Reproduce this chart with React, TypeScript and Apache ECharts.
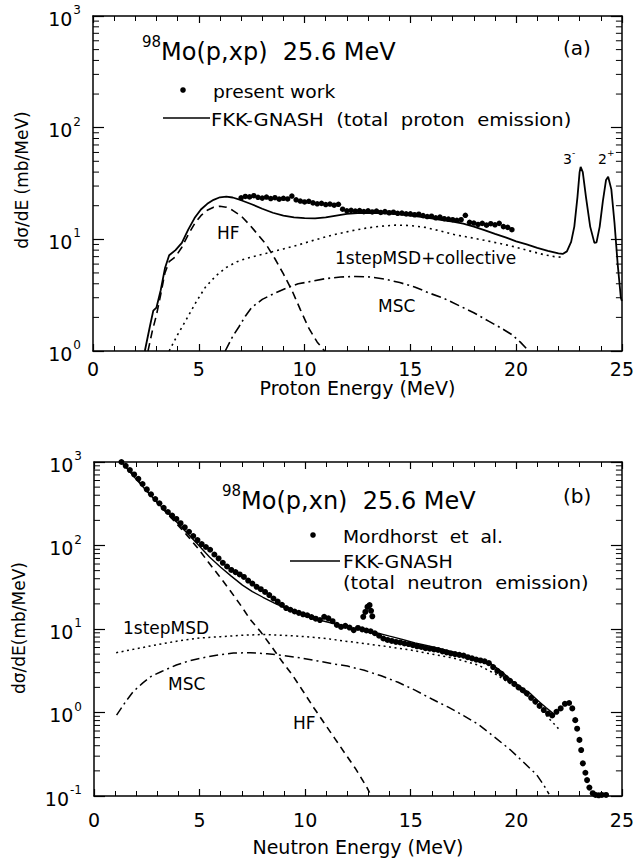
import React, { useEffect, useRef } from "react";
import * as echarts from "echarts";

const FONT = "DejaVu Sans";

// ---------- (a) 98Mo(p,xp) 25.6 MeV ----------
const presentWork: [number, number][] = [
  [7.0, 23.5], [7.2, 24.2], [7.4, 24.0], [7.6, 24.6], [7.8, 23.8], [8.0, 23.4], [8.2, 23.9], [8.4, 23.2],
  [8.6, 23.6], [8.8, 22.9], [9.0, 23.3], [9.2, 23.0], [9.4, 24.4], [9.6, 22.6], [9.8, 22.0], [10.0, 21.6],
  [10.2, 21.9], [10.4, 21.2], [10.6, 20.8], [10.8, 21.0], [11.0, 20.5], [11.2, 20.7], [11.4, 20.2], [11.6, 20.6],
  [11.8, 18.6], [12.0, 18.0], [12.2, 18.2], [12.4, 17.9], [12.6, 18.1], [12.8, 17.7], [13.0, 18.0], [13.2, 17.6],
  [13.4, 17.9], [13.6, 17.4], [13.8, 17.7], [14.0, 17.3], [14.2, 17.5], [14.4, 17.1], [14.6, 17.2], [14.8, 16.9],
  [15.0, 16.9], [15.2, 16.6], [15.4, 16.8], [15.6, 16.3], [15.8, 16.0], [16.0, 16.1], [16.2, 15.6], [16.4, 15.8],
  [16.6, 15.3], [16.8, 15.2], [17.0, 15.0], [17.2, 14.8], [17.4, 15.0], [17.6, 16.4], [17.8, 14.2], [18.0, 14.0],
  [18.2, 13.6], [18.4, 13.9], [18.6, 13.4], [18.8, 13.8], [19.0, 13.5], [19.2, 13.9], [19.4, 13.0], [19.6, 12.8],
  [19.8, 12.2],
];

const protonTotal: [number, number][] = [
  [2.45, 1.0], [2.7, 1.7], [2.85, 2.3], [3.0, 2.45], [3.2, 3.5], [3.4, 5.5], [3.6, 7.2], [3.9, 8.0],
  [4.2, 9.3], [4.5, 12.2], [4.8, 15.5], [5.1, 18.5], [5.4, 20.8], [5.7, 22.6], [6.0, 23.8], [6.3, 24.1],
  [6.6, 23.7], [7.0, 22.4], [7.5, 20.6], [8.0, 18.8], [8.5, 17.3], [9.0, 16.3], [9.5, 15.7], [10.0, 15.5],
  [10.5, 15.4], [11.0, 15.7], [11.5, 16.3], [12.0, 16.9], [12.5, 17.2], [13.0, 17.3], [13.5, 17.2], [14.0, 17.0],
  [14.5, 16.7], [15.0, 16.3], [15.5, 15.9], [16.0, 15.4], [16.5, 14.9], [17.0, 14.4], [17.5, 13.8], [18.0, 13.0],
  [18.5, 12.1], [19.0, 11.2], [19.5, 10.4], [20.0, 9.6], [20.5, 9.0], [21.0, 8.4], [21.5, 7.9], [22.0, 7.5],
  [22.2, 7.4], [22.4, 7.8], [22.6, 9.5], [22.75, 13], [22.9, 24], [23.0, 40], [23.05, 44.6], [23.15, 40],
  [23.3, 24], [23.5, 13], [23.7, 9.3], [23.8, 9.4], [23.95, 13], [24.1, 22], [24.25, 34], [24.35, 36.4],
  [24.5, 28], [24.65, 14], [24.8, 6], [24.95, 3.0], [25.0, 2.8],
];

const protonHF: [number, number][] = [
  [2.6, 1.0], [2.8, 1.5], [3.0, 2.1], [3.2, 3.2], [3.4, 5.0], [3.6, 6.3], [3.9, 7.0], [4.2, 8.5],
  [4.5, 11.0], [4.8, 13.8], [5.1, 16.3], [5.4, 18.2], [5.7, 19.4], [6.0, 19.8], [6.3, 19.4], [6.6, 18.2],
  [7.0, 16.2], [7.4, 13.5], [7.8, 11.0], [8.2, 8.9], [8.6, 6.7], [9.0, 4.9], [9.4, 3.5], [9.8, 2.35],
  [10.2, 1.6], [10.6, 1.2], [10.95, 1.0],
];

const protonMSD: [number, number][] = [
  [3.6, 1.0], [4.0, 1.4], [4.4, 1.9], [4.9, 2.8], [5.3, 3.7], [5.8, 4.7], [6.3, 5.6], [6.8, 6.3],
  [7.3, 6.8], [8.2, 7.5], [9.0, 8.2], [9.7, 8.9], [10.5, 9.9], [11.3, 10.9], [12.1, 11.8], [12.9, 12.6],
  [13.6, 13.1], [14.3, 13.4], [15.0, 13.3], [15.7, 12.8], [16.4, 11.9], [17.1, 11.0], [17.8, 10.4],
  [18.5, 9.8], [19.2, 9.2], [19.9, 8.6], [20.6, 7.9], [21.3, 7.3], [21.8, 7.0], [22.2, 6.9],
];

const protonMSC: [number, number][] = [
  [6.25, 1.0], [6.6, 1.35], [6.9, 1.65], [7.2, 2.05], [7.5, 2.45], [8.0, 2.9], [8.6, 3.3], [9.2, 3.7],
  [9.7, 4.0], [10.3, 4.2], [11.0, 4.45], [11.7, 4.6], [12.4, 4.65], [13.1, 4.6], [13.8, 4.4], [14.5, 4.1],
  [15.2, 3.75], [15.9, 3.3], [16.6, 2.95], [17.3, 2.55], [18.0, 2.2], [18.7, 1.85], [19.3, 1.6],
  [19.8, 1.4], [20.2, 1.2], [20.6, 1.0],
];

// ---------- (b) 98Mo(p,xn) 25.6 MeV ----------
const mordhorst: [number, number][] = [
  [1.3, 1000], [1.5, 900], [1.7, 800], [1.9, 710], [2.1, 630], [2.3, 545], [2.5, 470], [2.7, 410],
  [2.9, 360], [3.1, 320], [3.3, 282], [3.5, 252], [3.7, 228], [3.9, 208], [4.1, 185], [4.3, 165],
  [4.5, 146], [4.7, 130], [4.9, 116], [5.1, 104], [5.3, 96], [5.5, 89], [5.7, 78], [5.9, 70],
  [6.1, 62], [6.3, 56], [6.5, 51], [6.7, 48], [6.9, 45], [7.1, 42], [7.3, 38], [7.5, 35],
  [7.7, 32], [7.9, 30], [8.1, 27.8], [8.3, 25.5], [8.5, 23.2], [8.7, 21.3], [8.9, 19.5], [9.1, 17.8],
  [9.3, 17.0], [9.5, 16.2], [9.7, 15.6], [9.9, 15.0], [10.1, 14.6], [10.3, 13.9], [10.5, 13.3], [10.7, 12.8],
  [10.9, 14.0], [11.1, 13.4], [11.3, 12.4], [11.5, 11.2], [11.7, 10.6], [11.9, 10.9], [12.1, 10.4], [12.3, 9.7],
  [12.5, 10.3], [12.7, 9.9], [12.75, 14.0], [12.85, 16.0], [12.9, 9.6], [12.95, 18.4], [13.05, 19.3], [13.1, 9.4],
  [13.12, 16.5], [13.18, 14.2], [13.3, 8.9], [13.5, 8.3], [13.7, 7.7], [13.9, 7.4], [14.1, 7.2], [14.3, 7.0],
  [14.5, 6.9], [14.7, 6.7], [14.9, 6.6], [15.1, 6.4], [15.3, 6.2], [15.5, 6.1], [15.7, 5.9], [15.9, 5.8],
  [16.1, 5.7], [16.3, 5.6], [16.5, 5.4], [16.7, 5.25], [16.9, 5.1], [17.1, 5.0], [17.3, 4.9], [17.5, 4.8],
  [17.7, 4.6], [17.9, 4.45], [18.1, 4.3], [18.3, 4.2], [18.5, 4.1], [18.7, 3.9], [18.9, 3.5], [19.1, 3.15],
  [19.3, 2.9], [19.5, 2.6], [19.7, 2.4], [19.9, 2.2], [20.1, 2.0], [20.3, 1.85], [20.5, 1.69], [20.7, 1.5],
  [20.9, 1.35], [21.1, 1.2], [21.3, 1.07], [21.5, 0.97], [21.7, 0.92], [21.9, 1.02], [22.1, 1.12], [22.3, 1.27],
  [22.5, 1.3], [22.65, 1.12], [22.79, 0.81], [22.88, 0.64], [22.99, 0.47], [23.07, 0.355], [23.15, 0.246],
  [23.27, 0.19], [23.35, 0.155], [23.46, 0.126], [23.62, 0.108], [23.75, 0.103], [23.9, 0.102], [24.05, 0.103],
  [24.25, 0.103],
];

const neutronTotal: [number, number][] = [
  [1.3, 1000], [2.0, 620], [2.6, 420], [3.2, 290], [3.8, 205], [4.36, 145], [4.9, 104], [5.47, 73],
  [6.0, 55], [6.5, 43], [7.03, 33.5], [7.5, 28], [8.0, 24], [8.59, 20.2], [9.2, 17.2], [9.8, 15.0],
  [10.4, 13.3], [11.0, 12.2], [11.6, 11.2], [12.2, 10.3], [12.8, 9.7], [13.4, 9.0], [14.0, 8.2], [14.6, 7.5],
  [15.2, 6.8], [15.8, 6.3], [16.4, 5.8], [17.0, 5.3], [17.6, 4.8], [18.2, 4.3], [18.77, 3.87], [19.3, 3.1],
  [19.8, 2.4], [20.3, 1.95], [20.65, 1.7], [21.0, 1.4], [21.4, 1.15], [21.8, 0.95],
];

const neutronHF: [number, number][] = [
  [1.3, 1000], [2.0, 640], [2.6, 425], [3.2, 285], [3.8, 196], [4.4, 133], [4.9, 94], [5.4, 64],
  [5.9, 44], [6.4, 30], [6.9, 20], [7.4, 13], [7.9, 9.2], [8.4, 6.2], [8.9, 4.1], [9.4, 2.8],
  [9.9, 1.8], [10.4, 1.15], [10.9, 0.75], [11.4, 0.49], [11.9, 0.32], [12.4, 0.21], [12.9, 0.13], [13.05, 0.11],
];

const neutronMSD: [number, number][] = [
  [1.05, 5.2], [2.0, 5.8], [3.0, 6.5], [4.0, 7.2], [5.0, 7.8], [6.0, 8.1], [7.0, 8.4], [8.0, 8.6],
  [9.0, 8.4], [10.0, 8.1], [11.0, 7.7], [12.0, 7.1], [13.0, 6.6], [14.0, 6.1], [15.0, 5.6], [16.0, 5.0],
  [17.0, 4.5], [18.2, 3.7], [19.0, 2.9], [19.5, 2.4], [20.0, 2.0], [20.65, 1.5], [21.2, 1.08], [21.6, 0.82],
  [22.05, 0.62],
];

const neutronMSC: [number, number][] = [
  [1.07, 0.93], [1.5, 1.35], [1.85, 1.77], [2.3, 2.25], [2.7, 2.7], [3.2, 3.1], [3.9, 3.7], [4.5, 4.15],
  [5.0, 4.45], [5.8, 4.85], [6.6, 5.15], [7.4, 5.2], [8.2, 5.05], [9.0, 4.8], [9.8, 4.5], [10.6, 4.15],
  [11.4, 3.8], [12.0, 3.6], [12.8, 3.2], [13.6, 2.75], [14.4, 2.3], [15.2, 1.85], [16.0, 1.45], [16.8, 1.15],
  [17.5, 0.92], [18.2, 0.72], [19.0, 0.5], [19.7, 0.36], [20.3, 0.26], [20.96, 0.18], [21.3, 0.135], [21.55, 0.105],
];

// minor log ticks (2..9 of each decade)
const decadesA = [1, 10, 100];
const decadesB = [0.1, 1, 10, 100];
const mantissas = [2, 3, 4, 5, 6, 7, 8, 9];

const ENERGY_MIN = 0;
const ENERGY_MAX = 25;

const black = "#000";

function lineSeries(data: [number, number][], idx: number, type: any, width = 1.5) {
  return {
    type: "line",
    xAxisIndex: idx,
    yAxisIndex: idx,
    data,
    showSymbol: false,
    symbol: "none",
    lineStyle: { color: black, width, type },
    z: 3,
  };
}

function scatterSeries(data: [number, number][], idx: number, size: number) {
  return {
    type: "scatter",
    xAxisIndex: idx,
    yAxisIndex: idx,
    data,
    symbol: "circle",
    symbolSize: size,
    itemStyle: { color: black, opacity: 1 },
    z: 4,
  };
}

function minorTickSeries(decades: number[], idx: number) {
  const vals: [number, number][] = [];
  decades.forEach((d) => mantissas.forEach((m) => vals.push([ENERGY_MIN, +(m * d).toPrecision(3)])));
  return {
    type: "custom",
    xAxisIndex: idx,
    yAxisIndex: idx,
    data: vals,
    clip: false,
    silent: true,
    z: 5,
    renderItem: (_params: any, api: any) => {
      const v = api.value(1);
      const pl = api.coord([ENERGY_MIN, v]);
      const pr = api.coord([ENERGY_MAX, v]);
      return {
        type: "group",
        children: [
          { type: "line", shape: { x1: pl[0], y1: pl[1], x2: pl[0] + 6, y2: pl[1] }, style: { stroke: black, lineWidth: 1 } },
          { type: "line", shape: { x1: pr[0], y1: pr[1], x2: pr[0] - 6, y2: pr[1] }, style: { stroke: black, lineWidth: 1 } },
        ],
      };
    },
  };
}

function xAxes(gridIndex: number, name: string, labelMargin: number, nameGap: number) {
  const common = {
    type: "value",
    gridIndex,
    min: ENERGY_MIN,
    max: ENERGY_MAX,
    interval: 5,
    splitLine: { show: false },
    axisLine: { show: true, onZero: false, lineStyle: { color: black, width: 1.5 } },
    axisTick: { show: true, inside: true, length: 7, lineStyle: { color: black, width: 1.2 } },
    minorTick: { show: true, splitNumber: 5, length: 5, lineStyle: { color: black, width: 1 } },
    minorSplitLine: { show: false },
  };
  return [
    {
      ...common,
      position: "bottom",
      name,
      nameLocation: "middle",
      nameGap,
      nameTextStyle: { fontFamily: FONT, fontSize: 19, color: black, verticalAlign: "top" },
      axisLabel: { show: true, margin: labelMargin, fontFamily: FONT, fontSize: 19, color: black },
    },
    { ...common, position: "top", axisLabel: { show: false } },
  ];
}

function yAxes(gridIndex: number, min: number) {
  const common = {
    type: "log",
    logBase: 10,
    gridIndex,
    min,
    max: 1000,
    splitLine: { show: false },
    axisLine: { show: true, onZero: false, lineStyle: { color: black, width: 1.5 } },
    axisTick: { show: true, inside: true, length: 11, lineStyle: { color: black, width: 1.2 } },
  };
  return [
    {
      ...common,
      position: "left",
      axisLabel: {
        show: true,
        margin: 12,
        formatter: (v: number) => `{b|10}{s|${Math.round(Math.log10(v))}}`,
        rich: {
          b: { fontFamily: FONT, fontSize: 19, color: black, lineHeight: 24, verticalAlign: "bottom" },
          s: { fontFamily: FONT, fontSize: 12, color: black, lineHeight: 24, verticalAlign: "top", padding: [0, 0, 0, 1] },
        },
      },
    },
    { ...common, position: "right", axisLabel: { show: false } },
  ];
}

function txt(x: number, y: number, text: string, fontSize = 17, extra: any = {}) {
  const { style, ...rest } = extra;
  return {
    type: "text",
    x,
    y,
    silent: true,
    z: 10,
    ...rest,
    style: {
      text,
      fontFamily: FONT,
      fontSize,
      fill: black,
      align: "left",
      verticalAlign: "middle",
      ...(style || {}),
    },
  };
}

function richTitle(x: number, y: number, sup: string, main: string) {
  return {
    type: "text",
    x,
    y,
    silent: true,
    z: 10,
    style: {
      text: `{s|${sup}}{m|${main}}`,
      align: "left",
      verticalAlign: "middle",
      rich: {
        s: { fontFamily: FONT, fontSize: 15, fill: black, lineHeight: 30, verticalAlign: "top" },
        m: { fontFamily: FONT, fontSize: 24, fill: black, lineHeight: 30, verticalAlign: "bottom" },
      },
    },
  };
}

function stateLabel(x: number, y: number, n: string, s: string) {
  return {
    type: "text",
    x,
    y,
    silent: true,
    z: 10,
    style: {
      text: `{n|${n}}{s|${s}}`,
      align: "left",
      verticalAlign: "middle",
      rich: {
        n: { fontFamily: FONT, fontSize: 14, fill: black, lineHeight: 18, verticalAlign: "bottom" },
        s: { fontFamily: FONT, fontSize: 9, fill: black, lineHeight: 18, verticalAlign: "top" },
      },
    },
  };
}

export default function App() {
  const ref = useRef<HTMLDivElement>(null);

  useEffect(() => {
    if (!ref.current) return;
    const chart = echarts.init(ref.current, null, { renderer: "svg" });

    const option: any = {
      animation: false,
      backgroundColor: "#fff",
      grid: [
        { left: 93, top: 16, width: 532, height: 335 },
        { left: 94, top: 462, width: 532, height: 334 },
      ],
      xAxis: [
        ...xAxes(0, "Proton Energy (MeV)", 8, 21),
        ...xAxes(1, "Neutron Energy (MeV)", 14, 41),
      ],
      yAxis: [...yAxes(0, 1), ...yAxes(1, 0.1)],
      series: [
        // panel (a): axis index 0
        scatterSeries(presentWork, 0, 5.5),
        lineSeries(protonTotal, 0, "solid", 1.8),
        lineSeries(protonHF, 0, [8, 5], 1.6),
        lineSeries(protonMSD, 0, [2, 4], 1.6),
        lineSeries(protonMSC, 0, [10, 4, 2, 4], 1.6),
        minorTickSeries(decadesA, 0),
        // panel (b): axis index 2
        scatterSeries(mordhorst, 2, 6),
        lineSeries(neutronTotal, 2, "solid", 1.4),
        lineSeries(neutronHF, 2, [7, 5], 1.6),
        lineSeries(neutronMSD, 2, [2, 3.5], 1.5),
        lineSeries(neutronMSC, 2, [9, 4, 2, 4], 1.5),
        minorTickSeries(decadesB, 2),
      ],
      graphic: [
        // panel (a) annotations
        richTitle(142, 49, "98", "Mo(p,xp)  25.6 MeV"),
        txt(563, 48, "(a)", 20),
        { type: "circle", shape: { cx: 183, cy: 90, r: 2.8 }, style: { fill: black }, silent: true },
        txt(213, 92, "present work", 17, { scaleX: 1.1 }),
        { type: "line", shape: { x1: 163, y1: 118, x2: 210, y2: 118 }, style: { stroke: black, lineWidth: 1.5 }, silent: true },
        txt(211, 120, "FKK-GNASH  (total  proton  emission)", 17, { scaleX: 1.15 }),
        txt(217, 233, "HF", 17),
        txt(335, 258, "1stepMSD+collective", 17),
        txt(378, 306, "MSC", 17),
        stateLabel(563, 157, "3", "-"),
        stateLabel(598, 157, "2", "+"),
        txt(22, 180, "dσ/dE (mb/MeV)", 17, { rotation: Math.PI / 2, style: { align: "center" } }),
        // panel (b) annotations
        richTitle(222, 498, "98", "Mo(p,xn)  25.6 MeV"),
        txt(563, 496, "(b)", 20),
        { type: "circle", shape: { cx: 313, cy: 535, r: 2.8 }, style: { fill: black }, silent: true },
        txt(343, 537, "Mordhorst  et  al.", 17, { scaleX: 1.1 }),
        { type: "line", shape: { x1: 290, y1: 561, x2: 340, y2: 561 }, style: { stroke: black, lineWidth: 1.5 }, silent: true },
        txt(343, 562, "FKK-GNASH", 17, { scaleX: 1.12 }),
        txt(343, 583, "(total  neutron  emission)", 17, { scaleX: 1.14 }),
        txt(123, 628, "1stepMSD", 17),
        txt(168, 684, "MSC", 17),
        txt(293, 723, "HF", 17),
        txt(19, 628, "dσ/dE(mb/MeV)", 17, { rotation: Math.PI / 2, style: { align: "center" } }),
      ],
    };

    chart.setOption(option);
    return () => chart.dispose();
  }, []);

  return (
    <div
      ref={ref}
      style={{ position: "fixed", left: 0, top: 0, width: 637, height: 861, background: "#fff" }}
    />
  );
}
